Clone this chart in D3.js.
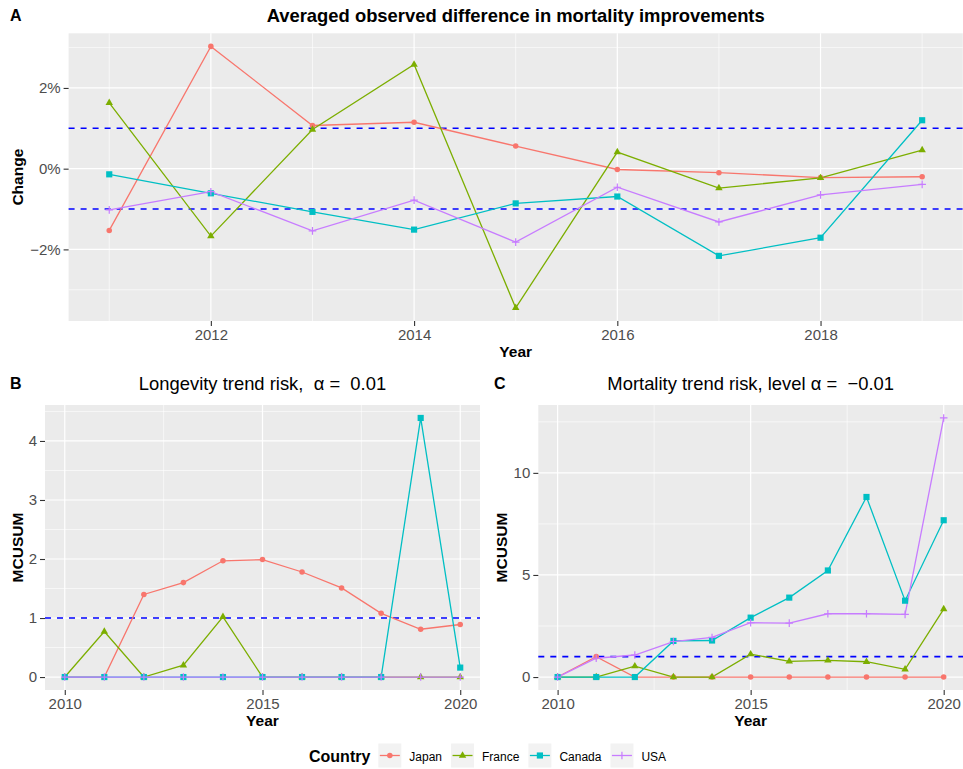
<!DOCTYPE html>
<html>
<head>
<meta charset="utf-8">
<script src="https://cdn.jsdelivr.net/npm/d3@7"></script>
<style>
  html, body { margin: 0; padding: 0; background: #ffffff; }
  svg { display: block; font-family: "Liberation Sans", Arial, Helvetica, sans-serif; }
</style>
</head>
<body>
<svg id="chart" width="963" height="769"></svg>
<script>
// ---------------- DATA ----------------
const countries = ["Japan", "France", "Canada", "USA"];
const countryColors = ["#F8766D", "#7CAE00", "#00BFC4", "#C77CFF"];
const countryShapes = ["circle", "triangle", "square", "plus"];

// Panel A: averaged observed difference in mortality improvements (%)
const yearsA = [2011, 2012, 2013, 2014, 2015, 2016, 2017, 2018, 2019];
const diffJapan  = [-1.53, 3.03, 1.07, 1.15, 0.56, -0.02, -0.10, -0.22, -0.20];
const diffFrance = [1.63, -1.67, 0.97, 2.58, -3.45, 0.41, -0.48, -0.23, 0.46];
const diffCanada = [-0.14, -0.61, -1.07, -1.51, -0.86, -0.69, -2.16, -1.71, 1.20];
const diffUSA    = [-1.02, -0.57, -1.54, -0.78, -1.82, -0.46, -1.32, -0.65, -0.39];
const thresholdsA = [1, -1];
const yTicksA = [-2, 0, 2];
const xTicksA = [2012, 2014, 2016, 2018];

// Panel B: longevity trend risk MCUSUM
const yearsBC = [2010, 2011, 2012, 2013, 2014, 2015, 2016, 2017, 2018, 2019, 2020];
const longJapan  = [0, 0, 1.40, 1.60, 1.97, 1.99, 1.78, 1.51, 1.08, 0.81, 0.89];
const longFrance = [0, 0.77, 0, 0.20, 1.02, 0, 0, 0, 0, 0, 0];
const longCanada = [0, 0, 0, 0, 0, 0, 0, 0, 0, 4.39, 0.16];
const longUSA    = [0, 0, 0, 0, 0, 0, 0, 0, 0, 0, 0];
const thresholdsB = [1];
const yTicksB = [0, 1, 2, 3, 4];

// Panel C: mortality trend risk MCUSUM
const mortJapan  = [0, 1.00, 0, 0, 0, 0, 0, 0, 0, 0, 0];
const mortFrance = [0, 0, 0.53, 0, 0, 1.12, 0.77, 0.82, 0.75, 0.38, 3.33];
const mortCanada = [0, 0, 0, 1.77, 1.79, 2.91, 3.89, 5.22, 8.82, 3.74, 7.68];
const mortUSA    = [0, 0.92, 1.08, 1.74, 1.94, 2.66, 2.64, 3.10, 3.10, 3.07, 12.69];
const thresholdsC = [1];
const yTicksC = [0, 5, 10];
const xTicksBC = [2010, 2015, 2020];

// ---------------- DRAWING ----------------
const svg = d3.select("#chart");
svg.append("rect").attr("width", 963).attr("height", 769).attr("fill", "#ffffff");

const TICK_FS = 15, AXT_FS = 15.5, TITLE_FS = 18.4;

function expandDomain(vals, mult) {
  const e = d3.extent(vals);
  const p = (e[1] - e[0]) * mult;
  return [e[0] - p, e[1] + p];
}

function symbolPath(shape) {
  if (shape === "circle") return d3.symbol(d3.symbolCircle, 24)();
  if (shape === "square") return d3.symbol(d3.symbolSquare, 38)();
  if (shape === "triangle") return d3.symbol(d3.symbolTriangle, 24)();
  return "M-3.8,0H3.8M0,-3.8V3.8";
}

function drawMarker(g, shape, color, x, y) {
  const p = g.append("path").attr("d", symbolPath(shape))
    .attr("transform", `translate(${x},${y})`);
  if (shape === "plus") p.attr("fill", "none").attr("stroke", color).attr("stroke-width", 1.2);
  else p.attr("fill", color);
}

function drawPanel(cfg) {
  const g = svg.append("g");
  const { x0, x1, y0, y1 } = cfg;
  const xDom = expandDomain(cfg.years, 0.05);
  const allVals = [].concat(...cfg.series);
  const yDom = expandDomain(allVals, 0.05);
  const x = d3.scaleLinear().domain(xDom).range([x0, x1]);
  const y = d3.scaleLinear().domain(yDom).range([y1, y0]);

  // background
  g.append("rect").attr("x", x0).attr("y", y0).attr("width", x1 - x0).attr("height", y1 - y0)
    .attr("fill", "#EBEBEB");
  // minor grid
  cfg.xMinor.forEach(v => g.append("line").attr("x1", x(v)).attr("x2", x(v)).attr("y1", y0).attr("y2", y1)
    .attr("stroke", "#ffffff").attr("stroke-width", 0.6));
  cfg.yMinor.forEach(v => g.append("line").attr("y1", y(v)).attr("y2", y(v)).attr("x1", x0).attr("x2", x1)
    .attr("stroke", "#ffffff").attr("stroke-width", 0.6));
  // major grid
  cfg.xTicks.forEach(v => g.append("line").attr("x1", x(v)).attr("x2", x(v)).attr("y1", y0).attr("y2", y1)
    .attr("stroke", "#ffffff").attr("stroke-width", 1.2));
  cfg.yTicks.forEach(v => g.append("line").attr("y1", y(v)).attr("y2", y(v)).attr("x1", x0).attr("x2", x1)
    .attr("stroke", "#ffffff").attr("stroke-width", 1.2));

  // thresholds
  cfg.thresholds.forEach(v => g.append("line").attr("y1", y(v)).attr("y2", y(v)).attr("x1", x0).attr("x2", x1)
    .attr("stroke", "#0000FF").attr("stroke-width", 1.6).attr("stroke-dasharray", "6,6"));

  // lines
  const line = d3.line().x(d => x(d[0])).y(d => y(d[1]));
  cfg.series.forEach((vals, i) => {
    const pts = cfg.years.map((yr, j) => [yr, vals[j]]);
    g.append("path").attr("d", line(pts)).attr("fill", "none")
      .attr("stroke", countryColors[i]).attr("stroke-width", 1.3);
  });
  // points
  cfg.series.forEach((vals, i) => {
    cfg.years.forEach((yr, j) => drawMarker(g, countryShapes[i], countryColors[i], x(yr), y(vals[j])));
  });

  // axes
  const xa = g.append("g").attr("transform", `translate(0,${y1})`)
    .call(d3.axisBottom(x).tickValues(cfg.xTicks).tickSize(5).tickPadding(3).tickFormat(d3.format("d")));
  const ya = g.append("g").attr("transform", `translate(${x0},0)`)
    .call(d3.axisLeft(y).tickValues(cfg.yTicks).tickSize(5).tickPadding(3).tickFormat(cfg.yFormat));
  [xa, ya].forEach(a => {
    a.select(".domain").remove();
    a.selectAll(".tick line").attr("stroke", "#333333").attr("stroke-width", 1.1);
    a.selectAll(".tick text").attr("fill", "#4D4D4D").style("font-size", TICK_FS + "px")
      .style("font-family", "Liberation Sans, Arial, sans-serif");
  });

  // axis titles
  g.append("text").attr("x", (x0 + x1) / 2).attr("y", cfg.xTitleY).attr("text-anchor", "middle")
    .style("font-size", AXT_FS + "px").style("font-weight", "bold").text("Year");
  g.append("text").attr("transform", `translate(${cfg.yTitleX},${(y0 + y1) / 2}) rotate(-90)`)
    .attr("text-anchor", "middle").style("font-size", AXT_FS + "px").style("font-weight", "bold")
    .text(cfg.yTitle);

  // tag
  g.append("text").attr("x", cfg.tagX).attr("y", cfg.tagY).style("font-size", "16px")
    .style("font-weight", "bold").text(cfg.tag);
  // title
  const t = g.append("text").attr("x", (x0 + x1) / 2).attr("y", cfg.titleY).attr("text-anchor", "middle")
    .style("font-size", TITLE_FS + "px").style("white-space", "pre");
  if (cfg.titleBold) t.style("font-weight", "bold");
  cfg.titleParts.forEach(p => t.append("tspan").text(p));
  return { x, y };
}

drawPanel({
  x0: 68.6, x1: 962.8, y0: 33.3, y1: 321,
  years: yearsA, series: [diffJapan, diffFrance, diffCanada, diffUSA],
  xTicks: xTicksA, xMinor: [2011, 2013, 2015, 2017, 2019],
  yTicks: yTicksA, yMinor: [-3, -1, 1, 3],
  yFormat: d => d3.format("d")(d) + "%",
  thresholds: thresholdsA,
  xTitleY: 357, yTitleX: 23, yTitle: "Change",
  tag: "A", tagX: 10, tagY: 21,
  titleY: 22, titleBold: true,
  titleParts: ["Averaged observed difference in mortality improvements"]
});

drawPanel({
  x0: 45, x1: 480, y0: 405, y1: 690,
  years: yearsBC, series: [longJapan, longFrance, longCanada, longUSA],
  xTicks: xTicksBC, xMinor: [2012.5, 2017.5],
  yTicks: yTicksB, yMinor: [0.5, 1.5, 2.5, 3.5, 4.5],
  yFormat: d3.format("d"),
  thresholds: thresholdsB,
  xTitleY: 726, yTitleX: 23, yTitle: "MCUSUM",
  tag: "B", tagX: 10, tagY: 389,
  titleY: 390, titleBold: false,
  titleParts: ["Longevity trend risk,  \u03B1 =  0.01"]
});

drawPanel({
  x0: 538.3, x1: 963, y0: 405, y1: 690,
  years: yearsBC, series: [mortJapan, mortFrance, mortCanada, mortUSA],
  xTicks: xTicksBC, xMinor: [2012.5, 2017.5],
  yTicks: yTicksC, yMinor: [2.5, 7.5, 12.5],
  yFormat: d3.format("d"),
  thresholds: thresholdsC,
  xTitleY: 726, yTitleX: 507, yTitle: "MCUSUM",
  tag: "C", tagX: 494, tagY: 389,
  titleY: 390, titleBold: false,
  titleParts: ["Mortality trend risk, level \u03B1 =  \u22120.01"]
});

// ---------------- LEGEND ----------------
const leg = svg.append("g");
const legTitle = leg.append("text").attr("x", 309).attr("y", 762).style("font-size", "16px")
  .style("font-weight", "bold").text("Country");
let lx = 309 + legTitle.node().getComputedTextLength() + 8;
const keyY = 743.5, keyH = 24, keyW = 23;
countries.forEach((c, i) => {
  leg.append("rect").attr("x", lx).attr("y", keyY).attr("width", keyW).attr("height", keyH).attr("fill", "#F2F2F2");
  leg.append("line").attr("x1", lx + 1.5).attr("x2", lx + keyW - 1.5)
    .attr("y1", keyY + keyH / 2).attr("y2", keyY + keyH / 2)
    .attr("stroke", countryColors[i]).attr("stroke-width", 1.3);
  drawMarker(leg, countryShapes[i], countryColors[i], lx + keyW / 2, keyY + keyH / 2);
  const lt = leg.append("text").attr("x", lx + keyW + 8).attr("y", 761).style("font-size", "12px").text(c);
  lx = lx + keyW + 8 + lt.node().getComputedTextLength() + 9;
});
</script>
</body>
</html>
